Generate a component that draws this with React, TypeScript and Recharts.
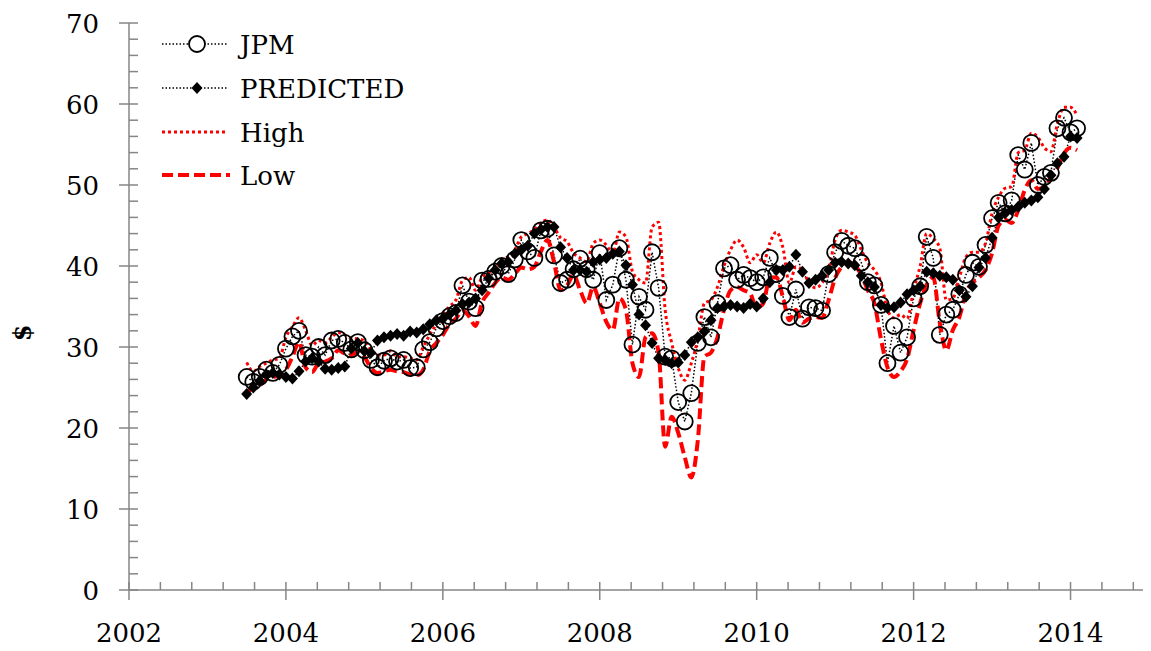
import { LineChart, Line, XAxis, YAxis } from 'recharts';

// monthly observations starting July 2003
const startYear = 2003;
const startMonth = 7;

const jpm = [
  26.3, 25.7, 26.3, 27.2, 26.8, 27.8, 29.8, 31.3, 32.0, 29.0, 28.8, 30.0, 29.0, 30.8, 31.0, 30.5, 29.7, 30.6,
  29.6, 28.4, 27.5, 28.3, 28.6, 28.2, 28.4, 27.4, 27.5, 29.7, 30.6, 32.3,
  33.2, 33.8, 34.2, 37.6, 35.6, 34.8, 38.2, 38.4, 39.3, 40.0, 39.0, 40.8, 43.2, 41.8, 41.0, 44.4, 44.6, 41.3, 37.9, 38.3, 39.6, 40.9, 39.6, 38.3,
  41.6, 35.8, 37.7, 42.2, 38.3, 30.3, 36.2, 34.6, 41.7, 37.3, 28.8, 28.6, 23.2, 20.8, 24.3, 30.5, 33.7, 31.2, 35.4, 39.7, 40.1, 38.3,
  38.9, 38.5, 38.0, 38.6, 41.0, 39.0, 36.3, 33.7, 37.1, 33.5, 34.9, 34.8, 34.5, 39.0, 41.7, 43.1, 42.5, 42.2, 40.4, 38.0, 37.6, 35.2, 28.0, 32.6, 29.3, 31.2,
  36.0, 37.5, 43.6, 41.0, 31.5, 34.0, 34.6, 36.5, 38.9, 40.4, 39.9, 42.6, 45.9, 47.8, 46.5, 48.1, 53.7, 51.9, 55.2, 50.0, 51.0, 51.5, 57.0, 58.3, 56.5, 57.0,
];

const predicted = [
  24.2, 25.0, 25.8, 26.6, 26.8, 26.6, 26.3, 26.1, 27.0, 28.2, 28.6, 28.2, 27.3, 27.2, 27.4, 27.6, 29.8, 30.5,
  29.5, 29.3, 30.8, 31.2, 31.4, 31.6, 31.4, 31.9, 31.8, 32.2, 32.8, 33.3,
  33.5, 34.0, 34.5, 35.3, 35.5, 36.0, 37.0, 38.5, 39.5, 40.3, 40.5, 41.5, 42.0, 42.5, 44.0, 44.5, 44.8, 44.8, 42.3, 41.0, 39.5, 39.5, 39.3, 40.5,
  40.8, 41.0, 41.5, 41.8, 40.1, 37.7, 34.0, 32.7, 30.5, 28.6, 28.4, 28.0, 28.1, 29.0, 30.6, 31.2, 31.9, 33.3, 34.8, 35.0, 35.2, 35.0,
  34.8, 35.3, 35.0, 36.0, 38.0, 39.5, 39.5, 39.9, 41.4, 39.3, 37.9, 38.3, 38.8, 39.5, 40.4, 40.5, 40.3, 40.1, 38.8, 38.0, 37.4, 35.2, 34.8, 34.9, 35.5, 36.5,
  37.0, 37.5, 39.3, 39.1, 38.8, 38.6, 38.3, 37.0, 36.2, 37.5, 39.8, 41.0, 43.5, 46.0, 46.5, 46.9, 47.3, 47.8, 48.1, 48.5, 49.5, 51.2, 52.7, 53.5, 56.0, 55.8,
];

const high = [
  28.1, 27.0, 27.6, 28.0, 28.4, 28.6, 31.2, 32.5, 33.6, 32.1, 30.2, 30.8, 30.5, 31.2, 31.8, 31.5, 31.1, 31.0,
  30.8, 29.6, 29.0, 29.0, 29.5, 28.8, 28.8, 28.6, 28.4, 30.0, 31.5, 32.8,
  34.0, 35.0, 35.8, 38.2, 38.6, 37.0, 38.6, 39.1, 39.8, 40.6, 41.2, 42.0, 43.6, 44.0, 44.5, 45.3, 45.7, 44.8, 43.5, 43.0, 41.6, 41.0, 40.5, 42.8,
  43.2, 42.6, 41.5, 44.2, 43.6, 39.3, 38.3, 37.9, 44.8, 45.4, 34.6, 30.5, 27.4, 25.9, 28.0, 31.0, 35.4, 35.8, 37.4, 40.0, 42.0, 43.2,
  42.3, 40.4, 41.4, 40.4, 42.8, 44.2, 42.3, 37.9, 39.9, 39.5, 37.9, 37.3, 37.9, 39.5, 43.2, 44.4, 44.2, 43.8, 42.0, 40.4, 39.5, 38.0, 34.6, 33.6, 34.0, 33.5,
  37.0, 40.0, 44.0, 43.4, 42.2, 35.8, 36.0, 38.6, 41.1, 41.7, 41.7, 42.8, 46.5, 48.5, 49.6, 49.8, 54.0, 54.3, 56.4, 55.9, 54.6, 54.1, 57.6, 59.6, 59.6, 58.6,
];

const low = [
  24.3, 25.0, 25.3, 26.0, 26.3, 26.5, 27.2, 28.8, 30.6, 27.5, 26.9, 28.0, 28.2, 28.6, 29.6, 29.2, 29.0, 29.4,
  28.8, 27.4, 26.8, 27.0, 27.2, 27.0, 26.9, 26.6, 26.5, 27.2, 29.5, 30.5,
  31.5, 32.8, 33.5, 34.5, 33.8, 32.6, 35.5, 36.7, 37.9, 38.6, 38.3, 39.0, 39.8, 39.6, 39.9, 41.8, 43.2, 40.5, 37.0, 37.6, 38.9, 37.0, 35.4, 37.4,
  35.4, 33.1, 32.1, 36.0, 34.6, 28.0, 26.3, 31.2, 31.7, 29.3, 17.7, 21.4, 19.4, 16.4, 13.9, 18.5, 28.8, 29.3, 31.2, 34.6, 37.0, 37.4,
  37.0, 36.6, 34.8, 35.4, 38.5, 38.6, 36.2, 33.3, 34.6, 33.0, 33.5, 33.7, 33.6, 35.8, 38.5, 39.9, 40.5, 40.1, 38.9, 37.0, 35.4, 31.0, 27.5, 26.3, 27.0, 28.5,
  32.1, 35.4, 37.7, 38.6, 33.0, 29.6, 32.1, 33.7, 36.7, 37.9, 38.6, 39.5, 41.6, 45.0, 45.7, 45.3, 46.9, 49.4, 50.6, 49.5, 49.8, 50.9, 52.1, 53.9, 54.6, 54.3,
];

const xTicks = [
  2002, 2002.4, 2002.8, 2003.2, 2003.6, 2004, 2004.4, 2004.8, 2005.2, 2005.6,
  2006, 2006.4, 2006.8, 2007.2, 2007.6, 2008, 2008.4, 2008.8, 2009.2, 2009.6,
  2010, 2010.4, 2010.8, 2011.2, 2011.6, 2012, 2012.4, 2012.8, 2013.2, 2013.6,
  2014, 2014.4, 2014.8,
];
const xLabels = [2002, 2004, 2006, 2008, 2010, 2012, 2014];
const yTicks = [
  0, 2, 4, 6, 8, 10, 12, 14, 16, 18, 20, 22, 24, 26, 28, 30, 32, 34, 36,
  38, 40, 42, 44, 46, 48, 50, 52, 54, 56, 58, 60, 62, 64, 66, 68, 70,
];
const yLabels = [0, 10, 20, 30, 40, 50, 60, 70];

const data = jpm.map((v, i) => ({
  t: startYear + (startMonth - 1 + i) / 12,
  jpm: v,
  predicted: predicted[i],
  high: high[i],
  low: low[i],
}));

const FONT = '"DejaVu Serif", serif';
const AXIS = '#868686';

const XTick = ({ x, y, payload }: any) => {
  const major = xLabels.some((l) => Math.abs(l - payload.value) < 1e-6);
  return (
    <g>
      <line x1={x} x2={x} y1={y - 8} y2={major ? y + 10 : y} stroke={AXIS} strokeWidth={1.5} />
      {major && (
        <text x={x} y={y + 52} textAnchor="middle" fontFamily={FONT} fontSize={26} fill="#000">
          {Math.round(payload.value)}
        </text>
      )}
    </g>
  );
};

const YTick = ({ x, y, payload }: any) => {
  const major = yLabels.includes(payload.value);
  return (
    <g>
      <line x1={major ? x - 10 : x} x2={x + 9} y1={y} y2={y} stroke={AXIS} strokeWidth={1.5} />
      {major && (
        <text x={x - 30} y={y + 10} textAnchor="end" fontFamily={FONT} fontSize={26} fill="#000">
          {payload.value}
        </text>
      )}
    </g>
  );
};

const CircleDot = ({ cx, cy, index }: any) =>
  cx == null ? null : (
    <circle key={`c-${index}`} cx={cx} cy={cy} r={8} fill="none" stroke="#000" strokeWidth={1.8} />
  );

const DiamondDot = ({ cx, cy, index }: any) =>
  cx == null ? null : (
    <path
      key={`d-${index}`}
      d={`M${cx},${cy - 6} L${cx + 5.5},${cy} L${cx},${cy + 6} L${cx - 5.5},${cy} Z`}
      fill="#000"
    />
  );

const legendRows = [
  { name: 'JPM', y: 36 },
  { name: 'PREDICTED', y: 80 },
  { name: 'High', y: 124 },
  { name: 'Low', y: 167 },
];

const Overlay = () => (
  <svg
    width={460}
    height={400}
    style={{ position: 'absolute', left: 0, top: 0, pointerEvents: 'none' }}
  >
    {legendRows.map((r, i) => (
      <g key={r.name}>
        {i === 0 && (
          <>
            <line x1={154} x2={220} y1={r.y} y2={r.y} stroke="#000" strokeWidth={1.5} strokeDasharray="1.5 2" />
            <circle cx={189} cy={r.y} r={8} fill="#fff" stroke="#000" strokeWidth={1.8} />
          </>
        )}
        {i === 1 && (
          <>
            <line x1={154} x2={220} y1={r.y} y2={r.y} stroke="#000" strokeWidth={1.5} strokeDasharray="1.5 2" />
            <path d={`M189,${r.y - 6} L194.5,${r.y} L189,${r.y + 6} L183.5,${r.y} Z`} fill="#000" />
          </>
        )}
        {i === 2 && (
          <line x1={154} x2={220} y1={r.y} y2={r.y} stroke="#ff0000" strokeWidth={3} strokeDasharray="3 3" />
        )}
        {i === 3 && (
          <line x1={154} x2={222} y1={r.y} y2={r.y} stroke="#ff0000" strokeWidth={4} strokeDasharray="11 5" />
        )}
        <text x={232} y={r.y + 10} fontFamily={FONT} fontSize={26} fill="#000">
          {r.name}
        </text>
      </g>
    ))}
    <text
      x={14}
      y={325}
      transform="rotate(-90 14 325)"
      textAnchor="middle"
      dominantBaseline="central"
      fontFamily={FONT}
      fontWeight="bold"
      fontSize={24}
      fill="#000"
    >
      $
    </text>
  </svg>
);

export default function App() {
  return (
    <div style={{ position: 'relative', width: 1143, height: 643 }}>
      <LineChart width={1143} height={643} data={data} margin={{ top: 15, right: 2, bottom: 0, left: 0 }}>
        <XAxis
          dataKey="t"
          type="number"
          domain={[2002, 2015]}
          ticks={xTicks}
          interval={0}
          height={61}
          tickSize={0}
          tickMargin={0}
          tickLine={false}
          tick={<XTick />}
          axisLine={{ stroke: AXIS, strokeWidth: 1.5 }}
          allowDataOverflow
        />
        <YAxis
          type="number"
          domain={[0, 70]}
          ticks={yTicks}
          interval={0}
          width={121}
          tickSize={0}
          tickMargin={0}
          tickLine={false}
          tick={<YTick />}
          axisLine={{ stroke: AXIS, strokeWidth: 1.5 }}
          allowDataOverflow
        />
        <Line
          dataKey="jpm"
          name="JPM"
          type="linear"
          stroke="#000"
          strokeWidth={1.5}
          strokeDasharray="1.5 2"
          dot={CircleDot}
          activeDot={false}
          isAnimationActive={false}
        />
        <Line
          dataKey="predicted"
          name="PREDICTED"
          type="linear"
          stroke="#000"
          strokeWidth={1.5}
          strokeDasharray="1.5 2"
          dot={DiamondDot}
          activeDot={false}
          isAnimationActive={false}
        />
        <Line
          dataKey="high"
          name="High"
          type="monotone"
          stroke="#ff0000"
          strokeWidth={3}
          strokeDasharray="3 3"
          dot={false}
          activeDot={false}
          isAnimationActive={false}
        />
        <Line
          dataKey="low"
          name="Low"
          type="monotone"
          stroke="#ff0000"
          strokeWidth={4}
          strokeDasharray="11 5"
          dot={false}
          activeDot={false}
          isAnimationActive={false}
        />
      </LineChart>
      <Overlay />
    </div>
  );
}
